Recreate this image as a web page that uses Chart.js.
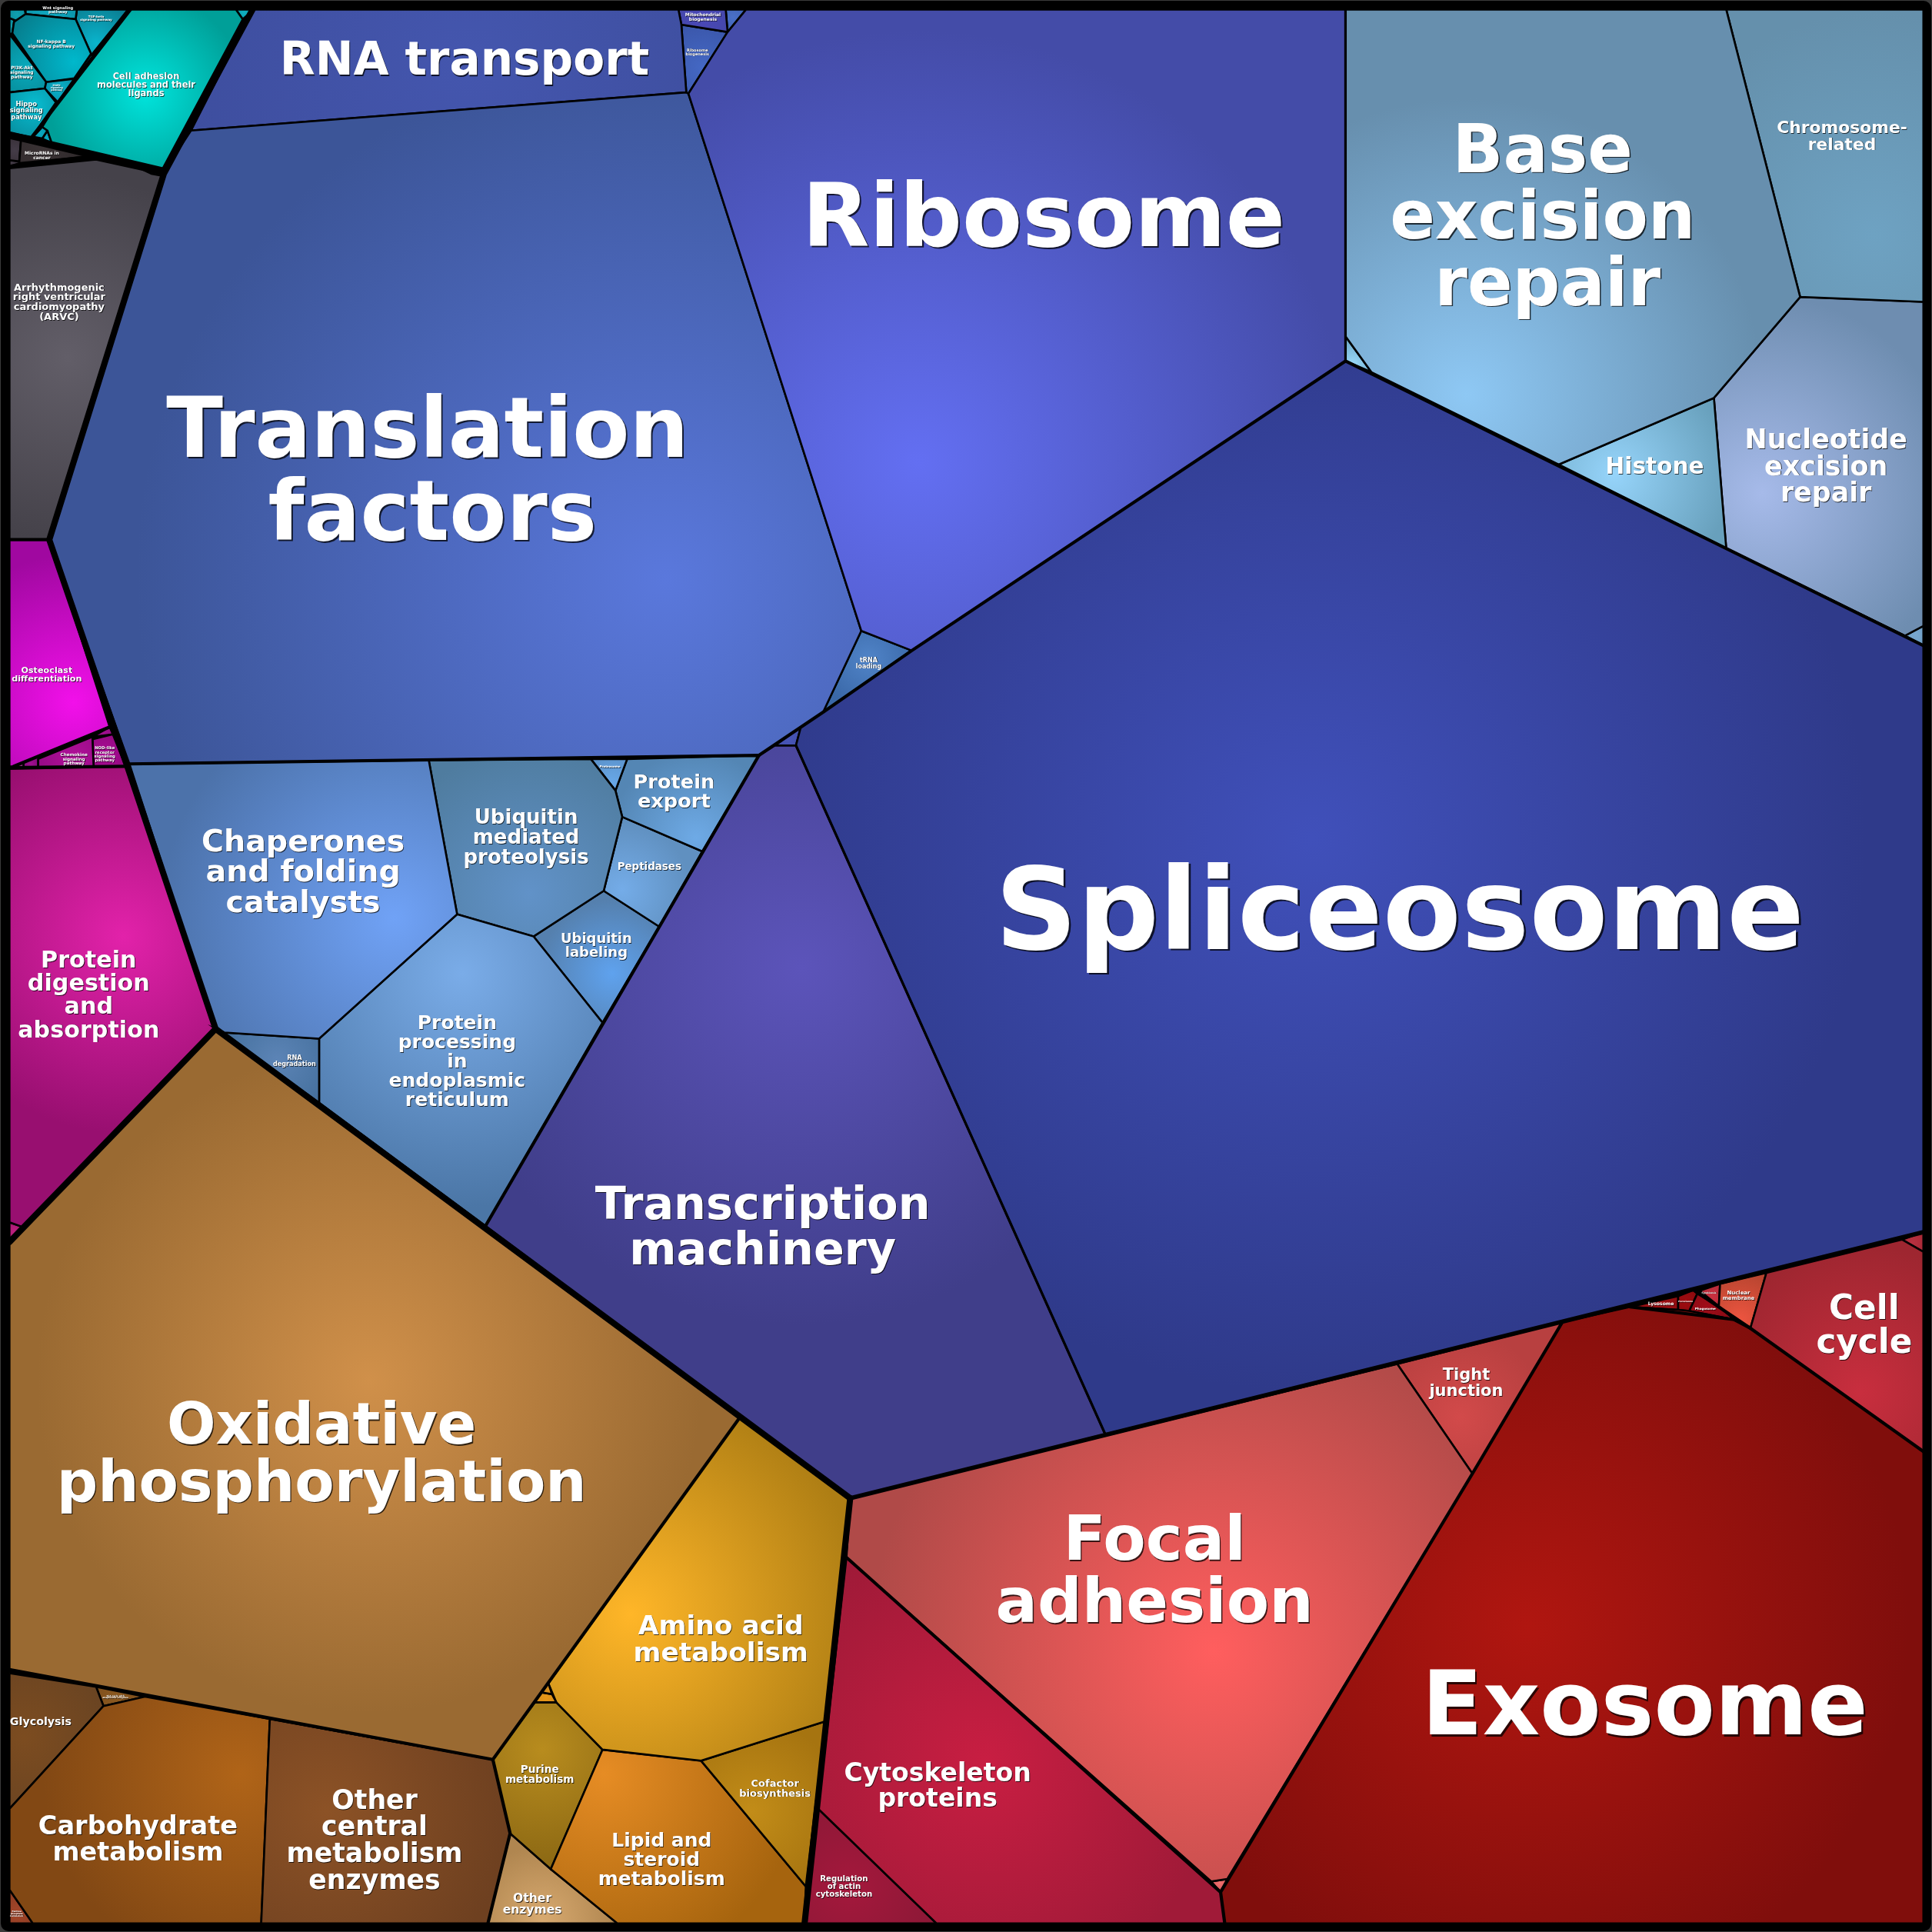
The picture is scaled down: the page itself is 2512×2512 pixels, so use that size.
<!DOCTYPE html>
<html><head><meta charset="utf-8">
<style>html,body{margin:0;padding:0;background:#3a3a3a}canvas{display:block}</style>
<script src="https://cdn.jsdelivr.net/npm/chart.js@4"></script>
</head><body><canvas id="c" width="2512" height="2512"></canvas>
<script>
const L=7.7,R=1561,T=7.7,B=1561;
// Voronoi cell outlines, in picture units on a 0..1568 axis pair
const cellOutlines=[
[[1092,293],[1401,445],[1546,516],[1561,524],[1561,1000],[1268,1073],[897,1164],[646,605],[650,590],[668,578],[740,528]],
[[605.5,T],[1092,T],[1092,293],[740,528],[699,512],[558.7,76],[590.5,26]],
[[134,138],[155,106],[557,75],[558.7,76],[699,512],[668,578],[616,613],[105,620],[40,438]],
[[205,T],[550.6,T],[553,20],[557,75],[155,106]],
[[550.6,T],[589,T],[590.5,26],[553,20]],
[[553,20],[590.5,26],[558.7,76],[557,75]],
[[589,T],[605.5,T],[590.5,26]],
[[699,512],[740,528],[668,578]],
[[629,605],[650,590],[646,605]],
[[616,613],[629,605],[646,605],[897,1164],[690,1216],[394,995]],
[[105,620],[348,617],[371,742],[259,843],[182,838],[175,835]],
[[182,838],[259,843],[259,895],[175,835]],
[[259,843],[371,742],[433,760],[489,830],[394,995],[259,895]],
[[348,617],[479.5,616],[499.5,641.6],[505,663],[490,723],[433,760],[371,742]],
[[479.5,616],[509,616],[499.5,641.6]],
[[509,616],[616,613],[570,691],[505,663],[499.5,641.6]],
[[505,663],[570,691],[535,752],[490,723]],
[[433,760],[490,723],[535,752],[489,830]],
[[1092,T],[1401,T],[1461,241],[1391,323],[1265,377],[1113,302],[1092,273]],
[[1092,273],[1113,302],[1092,293]],
[[1401,T],[R,T],[R,245],[1461,241]],
[[1265,377],[1391,323],[1401,445]],
[[1391,323],[1461,241],[R,245],[R,508],[1546,516],[1401,445]],
[[1546,516],[R,508],[R,524]],
[[690,1216],[1134,1107],[1195,1196],[996,1525],[983,1527],[687,1264]],
[[983,1527],[996,1525],[990.6,1535.6]],
[[1134,1107],[1268,1073],[1195,1196]],
[[1268,1073],[1323,1060.7],[1362,1063],[1371,1064],[1407.6,1071],[1420.6,1078],[R,1178],[R,B],[994,B],[990.6,1535.6],[1195,1196]],
[[1420.6,1078],[1433.6,1033],[1543.6,1006],[R,1016],[R,1178]],
[[1543.6,1006],[R,1000],[R,1016]],
[[1396,1042],[1433.6,1033],[1420.6,1078],[1407.6,1071],[1395,1060]],
[[1377.5,1050],[1395,1060],[1407.6,1071],[1371,1064]],
[[1379.5,1047.6],[1396,1042],[1395,1060]],
[[1374.5,1047],[1379.5,1047.6],[1377.5,1050]],
[[1362,1052],[1374.5,1047],[1377.5,1050],[1371,1064],[1362,1063]],
[[1323,1060.7],[1362,1052],[1362,1063]],
[[687,1264],[983,1527],[990.6,1535.6],[994,B],[760,B],[664,1468]],
[[664,1468],[760,B],[653,B]],
[[L,1008],[175,835],[600,1151],[445,1366],[400,1428],[219,1395],[L,1355]],
[[445,1366],[448,1375],[439,1373.5]],
[[439,1373.5],[448,1375],[451.5,1381.6],[434,1381.6]],
[[600,1151],[690,1216],[670,1397],[569,1429],[489,1420],[451.5,1381.6],[445,1366]],
[[569,1429],[670,1397],[654,1531]],
[[489,1420],[569,1429],[654,1531],[653,B],[501,B],[447,1517]],
[[400,1428],[434,1381.6],[451.5,1381.6],[489,1420],[447,1517],[414,1488]],
[[414,1488],[447,1517],[501,B],[396,B]],
[[219,1395],[400,1428],[414,1488],[396,B],[212,B]],
[[84,1384.6],[117.6,1377],[219,1395],[212,B],[26.6,B],[L,1533.6],[L,1468]],
[[L,1358],[78,1369],[84,1384.6],[L,1468]],
[[78,1369],[117.6,1377],[84,1384.6]],
[[L,1533.6],[26.6,B],[L,B]],
[[L,624],[103,622],[175,835],[19,996],[L,992]],
[[L,992],[19,996],[L,1006]],
[[L,438],[40,438],[89,590],[11,622],[L,622]],
[[31,616],[75,598],[76,623],[31,623]],
[[75,600],[91.6,596],[102,622],[76,623]],
[[75,598],[89,590],[91.6,596]],
[[11,622],[19,619],[19,623]],
[[19,619],[31,613],[31,623],[19,623]],
[[L,136],[78,129],[114.5,137],[123,141],[133,143],[40,438],[L,438]],
[[114.5,137],[130,140],[133,143],[123,141]],
[[17,114],[72,127],[15.6,132.4]],
[[L,112],[17,114],[15.6,131],[L,130]],
[[L,130],[15.6,131],[15.6,132.4],[L,135]],
[[104,T],[191.4,T],[197,15.6],[132,137],[42,116],[38.5,106],[34.3,103],[46.8,82.8]],
[[34.3,103],[38.5,106],[34.3,112.4],[27,111]],
[[38.5,106],[42,116],[34.3,112.4]],
[[191.4,T],[206,T],[197,15.6]],
[[L,75],[36.4,71.8],[45.4,83.2],[26,111.3],[L,107.8]],
[[37.5,66.6],[60.3,64],[46.8,82.8],[36.4,71.8]],
[[L,27.7],[37.5,66.6],[36.4,71.8],[L,75]],
[[20.8,11.4],[61.4,15.6],[73.9,43.7],[60.3,63.5],[37.5,66.6],[10,27],[11.4,17.7]],
[[L,T],[20,T],[20.8,11.4],[13.5,17],[L,14.6]],
[[L,14.6],[13.5,17],[11.4,17.7],[10,27],[L,27.7]],
[[20.8,T],[62.4,T],[61.4,15.6],[20.8,11.4]],
[[62.4,T],[104,T],[74.9,43.7],[73.9,43.7],[61.4,15.6]],
[[74,44],[76,46],[62.5,64.6],[60.3,63.5]]
];
// Shading of each cell, index-aligned with cellOutlines: centre x, y, radius, inner colour, outer colour
const cellShades=[
[1065,680,450,'#4050ba','#2f3a8a'],[745,375,350,'#636ff2','#444ca8'],[540,470,430,'#5a78dc','#3c5598'],[380,50,240,'#4456ae','#3e4e9e'],
[570,15,40,'#4a48b8','#40479f'],[570,55,40,'#4468c4','#3a55a8'],[595,14,20,'#4a70c8','#3a5aa8'],[705,535,40,'#5084c8','#3a68a8'],
[640,600,20,'#4855b8','#3a4a9e'],[650,785,290,'#5c54ba','#403e8a'],[320,745,190,'#70a2f6','#4c72aa'],[225,860,60,'#5c84b6','#3e6a96'],
[375,790,190,'#7aace8','#4b76a6'],[430,725,120,'#6192c8','#4f7c9f'],[497,635,25,'#68a8e8','#5a90c8'],[565,680,70,'#6eaae6','#5486b4'],
[505,722,55,'#74ace8','#6090c0'],[497,790,60,'#5fa2ee','#5580ae'],[1190,320,240,'#8ec8f4','#678fae'],[1098,295,20,'#98d8f8','#6ea8c8'],
[1520,190,180,'#6ea2c2','#6590ac'],[1310,385,95,'#96d4fa','#68a0bc'],[1430,400,160,'#a6bae9','#6e8db0'],[1555,515,15,'#78a8d0','#6a98c0'],
[985,1340,280,'#ff5e5e','#b04a48'],[990,1528,10,'#f07070','#d05050'],[1185,1150,70,'#d24a4a','#b84040'],[1240,1320,310,'#b01610','#800e0c'],
[1510,1130,120,'#c82e3e','#9e2630'],[1552,1008,12,'#b83040','#a82835'],[1412,1072,40,'#ee5540','#b84530'],[1385,1060,22,'#a00c18','#860a14'],
[1390,1052,15,'#c8303f','#b02838'],[1377,1048,5,'#a01020','#901020'],[1368,1056,14,'#a00c10','#880a0e'],[1345,1058,25,'#a01014','#880c10'],
[800,1430,190,'#c81e42','#a01a38'],[690,1530,80,'#a4183c','#8a1836'],[300,1120,270,'#d0904a','#9a6a32'],[445,1372,8,'#d89020','#c08018'],
[443,1378,12,'#e89818','#d08818'],[512,1310,190,'#ffb628','#ae7e14'],[610,1470,75,'#c28c18','#a67410'],[490,1440,160,'#e68c24','#a6640e'],
[440,1420,90,'#b88c1e','#8e6a14'],[440,1558,60,'#d8aa70','#b08650'],[265,1470,150,'#8c5226','#6e4020'],[195,1440,160,'#b06418','#824814'],
[20,1410,70,'#7c4c20','#6a4422'],[95,1378,25,'#8c5a20','#7c4c1c'],[14,1552,18,'#a4462a','#8c3c22'],[100,760,160,'#e222aa','#980f70'],
[12,1000,10,'#c02080','#a01870'],[60,570,120,'#f210ea','#a008a0'],[60,615,40,'#b01098','#8c0880'],[85,612,25,'#aa0c96','#8a0878'],
[85,595,10,'#a01090','#900880'],[15,622,6,'#c040a0','#a03090'],[25,620,8,'#a01090','#800878'],[55,290,150,'#625e68','#45424a'],
[125,140,10,'#2a2a30','#222226'],[35,122,30,'#3a3234','#302a2c'],[12,122,12,'#443c48','#383038'],[12,132,8,'#443c48','#383038'],
[118,75,80,'#00e4dc','#009f98'],[32,108,10,'#08a8c0','#0890a8'],[38,112,6,'#08a8c0','#0890a8'],[198,10,8,'#10b0c0','#0898a8'],
[28,85,35,'#08bcd0','#078898'],[48,72,15,'#08b0c8','#0890a8'],[22,55,30,'#08aabc','#078896'],[60,50,55,'#00b8cc','#067e8e'],
[14,12,10,'#10a0b0','#0a8898'],[10,22,8,'#10a0b0','#0a8898'],[40,12,30,'#10a8c0','#0a8fa4'],[78,35,35,'#0ab4cc','#0a7c90'],[68,55,12,'#10a8c0','#0a90a8']
];
// Boundary polylines between groups of cells
const heavyBorders=[
[[205,T],[133,141],[40,438],[103,621],[175,835],[690,1216]],
[[690,1216],[653,B]],[[L,1008],[175,835]]
];
const strongBorders=[[[690,1216],[1561,1000]]];
const midBorders=[
[[L,107.8],[132,137]],[[L,136],[78,129],[133,141]],[[L,135],[72,127]],[[L,438],[40,438]],[[L,623],[103,622]],[[89,590],[11,622]],
[[106,T],[26,111]],[[105,620],[616,613],[394,995]],[[616,613],[668,578],[740,528],[1092,293],[1561,524]],
[[600,1151],[400,1428],[L,1355]],[[400,1428],[414,1488],[396,B]],
[[1268,1073],[1195,1196],[990.6,1535.6],[994,B]],[[687,1264],[990.6,1535.6]],[[1407.6,1071],[1420.6,1078],[R,1178]],[[1323,1060.7],[1407.6,1071]],[[1374.5,1047],[1420.6,1078]]
];
const fineBorders=[[[1092,T],[1092,293]],[[646,605],[897,1164]]];
// Label text, anchor and fitted width of the widest line, index-aligned
const labelTexts=["Spliceosome","Ribosome","Translation\nfactors","Base\nexcision\nrepair","Chromosome-\nrelated","Histone","Nucleotide\nexcision\nrepair","RNA transport","Transcription\nmachinery","Chaperones\nand folding\ncatalysts","Ubiquitin\nmediated\nproteolysis","Protein\nexport","Peptidases","Ubiquitin\nlabeling","Protein\nprocessing\nin\nendoplasmic\nreticulum","RNA\ndegradation","tRNA\nloading","Oxidative\nphosphorylation","Amino acid\nmetabolism","Purine\nmetabolism","Cofactor\nbiosynthesis","Lipid and\nsteroid\nmetabolism","Other\nenzymes","Other\ncentral\nmetabolism\nenzymes","Carbohydrate\nmetabolism","Glycolysis","Focal\nadhesion","Exosome","Tight\njunction","Cell\ncycle","Cytoskeleton\nproteins","Regulation\nof actin\ncytoskeleton","Nuclear\nmembrane","Lysosome","Phagosome","Peroxisome","Cytokinesis","Protein\ndigestion\nand\nabsorption","Osteoclast\ndifferentiation","Chemokine\nsignaling\npathway","NOD-like\nreceptor\nsignaling\npathway","Arrhythmogenic\nright ventricular\ncardiomyopathy\n(ARVC)","Cell adhesion\nmolecules and their\nligands","NF-kappa B\nsignaling pathway","PI3K-Akt\nsignaling\npathway","Hippo\nsignaling\npathway","MAPK\nsignaling\npathway","Wnt signaling\npathway","TGF-beta\nsignaling pathway","MicroRNAs in\ncancer","Mitochondrial\nbiogenesis","Ribosome\nbiogenesis","Proteasome","Pentose\nphosphate\nmetabolism","TCA cycle with\nanaplerotic enzymes"];
const labelAnchors=[[1136,738],[847,175],[347,381],[1252,175],[1495,110],[1343,378],[1482,378],[377,48],[619,995],[246,707],[427,679],[547,642],[527,703],[484,767],[371,861],[239,861],[705,538],[261,1179],[585,1330],[438,1440],[629,1451],[537,1509],[432,1545],[304,1493],[112,1492],[33,1397],[937,1274],[1335,1383],[1190,1122],[1513,1075],[761,1449],[685,1531],[1411,1051.5],[1348,1058],[1384,1062],[1368,1056],[1387,1049],[72,807],[38,547],[60,616],[85,612],[48,245],[118.6,68.7],[41.6,35.4],[17.7,58.7],[21.4,89.5],[46,71],[47,8.2],[78,14.6],[34,126],[570.5,14],[566,42],[495,622],[13.5,1553],[93.6,1377]];
const labelWidths=[657,392,424,248,106,80,132,300,272,165,102,66,52,58,111,35,21,430,142,56,58,103,48,143,162,50,258,362,60,78,152,46,26,21,17,12,12,115,57,22,17,75,80,38,19,27,10,25,26,28,29,19,17,11,21];
// Per-line sideways offsets seen in the reference, by label text
const lineNudges={"Translation\nfactors":[0,4],"Base\nexcision\nrepair":[0,0,4]};

const pts=p=>p.map(([x,y])=>({x,y}));
const closed=p=>pts(p.concat([p[0]]));
const cellSets=cellOutlines.map((p,i)=>({
  type:'line',data:closed(p),order:2,pointRadius:0,tension:0,clip:false,fill:'shape',
  borderColor:'#000',borderWidth:2.6,borderJoinStyle:'miter',
  backgroundColor:(ctx)=>{
    const c=ctx.chart,s=cellShades[i],k=c.scales.x.width/1568;
    if(!c.scales.x.width)return s[4];
    const px=c.scales.x.getPixelForValue(s[0]),py=c.scales.y.getPixelForValue(s[1]);
    const g=c.ctx.createRadialGradient(px,py,0,px,py,s[2]*k);
    g.addColorStop(0,s[3]);g.addColorStop(1,s[4]);return g;
  }
}));
const borderSet=(p,w)=>({type:'line',data:pts(p),order:1,pointRadius:0,tension:0,clip:false,fill:false,borderColor:'#000',borderWidth:w,borderJoinStyle:'round',borderCapStyle:'round'});
const textFrame={
  id:'textFrame',
  beforeDraw(c){
    const g=c.ctx;g.save();g.fillStyle='#000';
    g.beginPath();g.roundRect(1,1,2510,2510,10);g.fill();g.restore();
  },
  afterDatasetsDraw(c){
    const g=c.ctx,X=c.scales.x,Y=c.scales.y,k=X.width/1568;
    g.save();
    labelTexts.forEach((t,i)=>{
      const lines=t.split('\n'),nudge=lineNudges[t]||[];
      g.font='bold 100px "DejaVu Sans"';
      const w=Math.max(...lines.map(l=>g.measureText(l).width));
      const size=100*labelWidths[i]*k/w;
      g.font='bold '+size+'px "DejaVu Sans"';
      g.textAlign='center';g.textBaseline='middle';
      const cx=X.getPixelForValue(labelAnchors[i][0]),cy=Y.getPixelForValue(labelAnchors[i][1])+size*0.085;
      const off=Math.max(0.8,size*0.018);
      lines.forEach((l,n)=>{
        const y=cy+(n-(lines.length-1)/2)*size*1.0,x=cx+(nudge[n]||0)*k;
        g.fillStyle='rgba(0,0,0,0.75)';g.fillText(l,x+off,y+off);
        g.fillStyle='#fff';g.fillText(l,x,y);
      });
    });
    g.restore();
  }
};
new Chart(document.getElementById('c'),{
  type:'scatter',
  data:{datasets:[...heavyBorders.map(p=>borderSet(p,8)),...strongBorders.map(p=>borderSet(p,5.6)),...midBorders.map(p=>borderSet(p,4.2)),...fineBorders.map(p=>borderSet(p,3.2)),...cellSets]},
  options:{
    responsive:false,animation:false,devicePixelRatio:1,
    layout:{padding:0},
    plugins:{legend:{display:false},tooltip:{enabled:false}},
    scales:{
      x:{type:'linear',min:0,max:1568,display:false},
      y:{type:'linear',min:0,max:1568,reverse:true,display:false}
    }
  },
  plugins:[textFrame]
});
</script></body></html>
